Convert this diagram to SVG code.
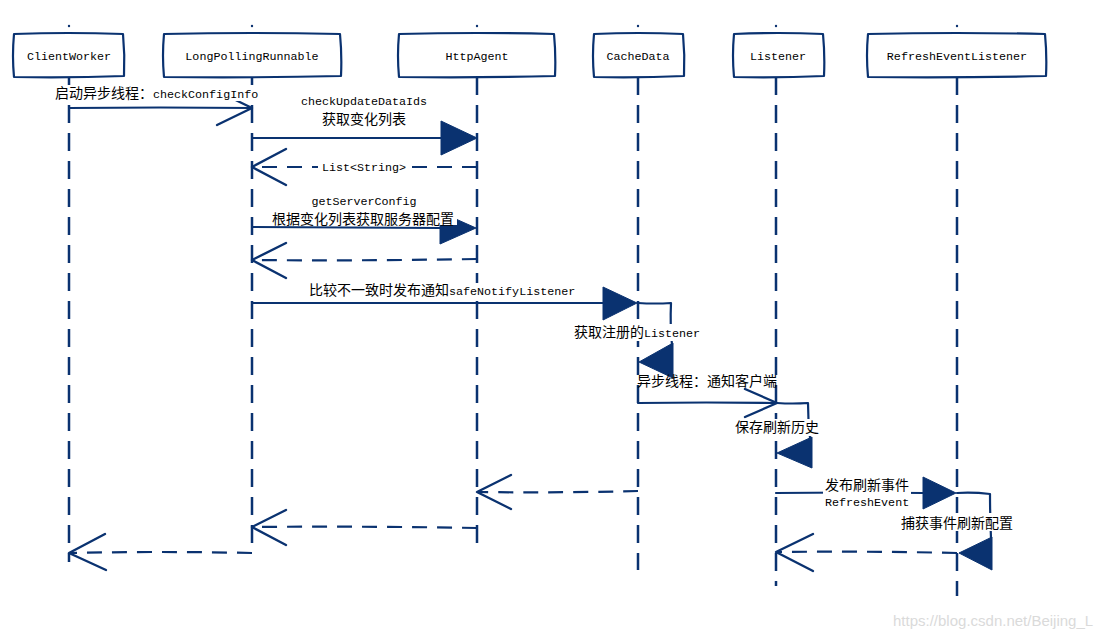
<svg xmlns="http://www.w3.org/2000/svg" width="1113" height="638" viewBox="0 0 1113 638">
<style>
.box{fill:#fff;stroke:#0a3270;stroke-width:2.2;stroke-linejoin:round}
.life{fill:none;stroke:#0a3270;stroke-width:2.5;stroke-dasharray:18 10}
.dot{fill:#0a3270}
.msg{fill:none;stroke:#0a3270;stroke-width:2.2;stroke-linecap:round;stroke-linejoin:round}
.ret{fill:none;stroke:#0a3270;stroke-width:2.2;stroke-dasharray:15 10}
.open{fill:none;stroke:#0a3270;stroke-width:2.4;stroke-linecap:round;stroke-linejoin:round}
.head{fill:#0a3270;stroke:#0a3270;stroke-width:1;stroke-linejoin:round}
.bg{fill:#fff}
.mono{font-family:"Liberation Mono","DejaVu Sans Mono",monospace;font-size:11.7px;fill:#000}
.cj{font-family:"Noto Sans CJK SC","Noto Sans",sans-serif;font-size:14px;fill:#000}
.nt{font-family:"Liberation Mono","DejaVu Sans Mono",monospace;font-size:11.7px;fill:#000;text-anchor:middle}
.wm{font-family:"Liberation Sans",Arial,sans-serif;font-size:15px;fill:#dadada}
</style>
<rect width="1113" height="638" fill="#fff"/>
<g id="nodes">
<g id="node-ClientWorker">
<circle class="dot" cx="69" cy="26" r="1.2"/>
<path class="life" d="M69,77 L69,562"/>
<path class="box" d="M14,34 Q68,32 123,34 Q125,55 124,76 Q70,78 14,77 Q12,56 14,34 Z"/>
<text class="nt" x="69" y="60">ClientWorker</text>
</g>
<g id="node-LongPollingRunnable">
<circle class="dot" cx="252" cy="26" r="1.2"/>
<path class="life" d="M252,77 L252,543"/>
<path class="box" d="M164,34 Q252,32 340,34 Q342,55 341,76 Q252,78 164,77 Q162,56 164,34 Z"/>
<text class="nt" x="252" y="60">LongPollingRunnable</text>
</g>
<g id="node-HttpAgent">
<circle class="dot" cx="477" cy="26" r="1.2"/>
<path class="life" d="M477,77 L477,543"/>
<path class="box" d="M399,34 Q477,32 554,34 Q556,55 555,76 Q477,78 399,77 Q397,56 399,34 Z"/>
<text class="nt" x="477" y="60">HttpAgent</text>
</g>
<g id="node-CacheData">
<circle class="dot" cx="638" cy="26" r="1.2"/>
<path class="life" d="M638,77 L638,570"/>
<path class="box" d="M594,34 Q638,32 683,34 Q685,55 684,76 Q638,78 594,77 Q592,56 594,34 Z"/>
<text class="nt" x="638" y="60">CacheData</text>
</g>
<g id="node-Listener">
<circle class="dot" cx="776" cy="26" r="1.2"/>
<path class="life" d="M776,77 L776,586"/>
<path class="box" d="M734,34 Q778,32 823,34 Q825,55 824,76 Q778,78 734,77 Q732,56 734,34 Z"/>
<text class="nt" x="778" y="60">Listener</text>
</g>
<g id="node-RefreshEventListener">
<circle class="dot" cx="957" cy="26" r="1.2"/>
<path class="life" d="M957,77 L957,596"/>
<path class="box" d="M868,34 Q957,32 1045,34 Q1047,55 1046,76 Q957,78 868,77 Q866,56 868,34 Z"/>
<text class="nt" x="957" y="60">RefreshEventListener</text>
</g>
</g>
<g id="connectors">
<path class="msg" d="M69,108 Q160,107 252,108"/>
<polyline class="open" points="217,91 252,108 217,125"/>
<path class="msg" d="M252,138 L442,138"/>
<polygon class="head" points="441,121 477,138 441,155"/>
<path class="ret" d="M477,167 L252,167"/>
<polyline class="open" points="286,149 252,167 286,185"/>
<path class="msg" d="M252,227 L442,228"/>
<polygon class="head" points="440,212 476,228 440,244"/>
<path class="ret" d="M477,259 Q360,261 252,260"/>
<polyline class="open" points="286,243 252,260 286,278"/>
<path class="msg" d="M252,303 L604,303"/>
<polygon class="head" points="603,287 637,303 603,320"/>
<path class="msg" d="M638,303 Q655,304 671,303 Q670,325 672,345"/>
<polygon class="head" points="673,343 639,362 673,378"/>
<path class="msg" d="M638,403 Q705,402 777,403"/>
<polyline class="open" points="745,389 777,403 745,417"/>
<path class="msg" d="M777,403 Q793,404 808,403 Q808,420 810,438"/>
<polygon class="head" points="812,437 777,453 812,468"/>
<path class="msg" d="M776,493 Q850,492 924,493"/>
<polygon class="head" points="923,477 956,493 923,509"/>
<path class="msg" d="M957,493 Q973,492 990,494 Q990,515 991,538"/>
<polygon class="head" points="992,537 959,553 992,570"/>
<path class="ret" d="M957,553 Q866,551 776,552"/>
<polyline class="open" points="813,534 776,552 813,571"/>
<path class="ret" d="M638,491 Q560,493 477,492"/>
<polyline class="open" points="511,475 477,492 511,509"/>
<path class="ret" d="M477,528 Q365,526 252,527"/>
<polyline class="open" points="286,510 252,527 286,545"/>
<path class="ret" d="M252,553 Q160,551 69,553"/>
<polyline class="open" points="105,534 69,553 106,570"/>
<rect class="bg" x="53" y="85" width="211" height="16"/>
<rect class="bg" x="318" y="160" width="92" height="15"/>
<rect class="bg" x="269" y="209" width="188" height="16"/>
<rect class="bg" x="307" y="283" width="273" height="16"/>
<rect class="bg" x="572" y="324" width="131" height="17"/>
<rect class="bg" x="733" y="419" width="88" height="17"/>
<rect class="bg" x="823" y="477" width="88" height="33"/>
<rect class="bg" x="899" y="513" width="116" height="18"/>
<text x="55" y="98"><tspan class="cj">启动异步线程：</tspan><tspan class="mono">checkConfigInfo</tspan></text>
<text class="nt" x="364" y="105">checkUpdateDataIds</text>
<text class="cj" x="364" y="124" text-anchor="middle">获取变化列表</text>
<text class="nt" x="364" y="171">List&lt;String&gt;</text>
<text class="nt" x="364" y="205">getServerConfig</text>
<text class="cj" x="363" y="224" text-anchor="middle">根据变化列表获取服务器配置</text>
<text x="309" y="295"><tspan class="cj">比较不一致时发布通知</tspan><tspan class="mono">safeNotifyListener</tspan></text>
<text x="574" y="337"><tspan class="cj">获取注册的</tspan><tspan class="mono">Listener</tspan></text>
<text class="cj" x="637" y="386">异步线程：通知客户端</text>
<text class="cj" x="735" y="432">保存刷新历史</text>
<text class="cj" x="825" y="490">发布刷新事件</text>
<text class="mono" x="825" y="506">RefreshEvent</text>
<text class="cj" x="901" y="528">捕获事件刷新配置</text>
</g>
<text class="wm" x="893" y="626">https://blog.csdn.net/Beijing_L</text>
</svg>
